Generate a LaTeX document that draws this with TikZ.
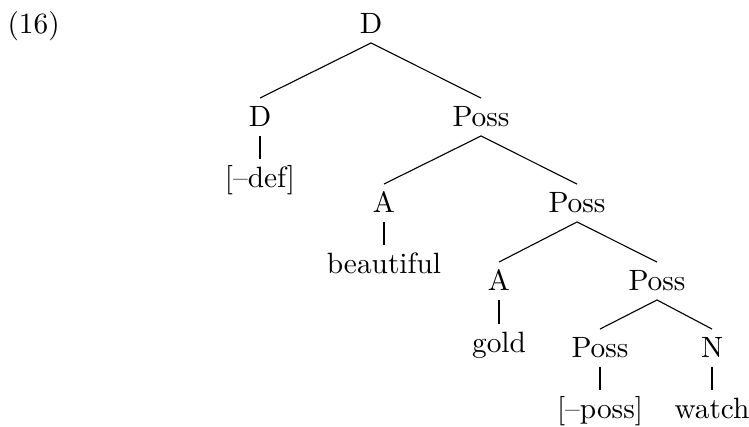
\documentclass[tikz,border=0pt]{standalone}
\begin{document}
\fontsize{10.6pt}{12.7pt}\selectfont
\begin{tikzpicture}[x=0.361pt,y=-0.361pt,
  lbl/.style={anchor=base,inner sep=3.4pt,text height=6.5pt,text depth=0pt},
  br/.style={line width=0.4pt}]
\useasboundingbox (0,0) rectangle (749,426);
\node[anchor=base west,inner sep=0pt] (ex) at (7,33) {(16)};
\node[lbl] (D0) at (371,33) {D};
\node[lbl] (D1) at (260,126) {D};
\node[lbl] (def) at (260,187) {[--def]};
\node[lbl] (P1) at (481,126) {Poss};
\node[lbl] (A1) at (384,212) {A};
\node[lbl] (beau) at (384,273) {beautiful};
\node[lbl] (P2) at (577,212) {Poss};
\node[lbl] (A2) at (499,290) {A};
\node[lbl] (gold) at (499,352) {gold};
\node[lbl] (P3) at (657,290) {Poss};
\node[lbl] (P4) at (600,357) {Poss};
\node[lbl] (N) at (712,357) {N};
\node[lbl] (poss) at (600,418) {[--poss]};
\node[lbl] (watch) at (712,418) {watch};
\draw[br] (D1.north) -- (D0.south) -- (P1.north);
\draw[br] (D1.south) -- (def.north);
\draw[br] (A1.north) -- (P1.south) -- (P2.north);
\draw[br] (A1.south) -- (beau.north);
\draw[br] (A2.north) -- (P2.south) -- (P3.north);
\draw[br] (A2.south) -- (gold.north);
\draw[br] (P4.north) -- (P3.south) -- (N.north);
\draw[br] (P4.south) -- (poss.north);
\draw[br] (N.south) -- (watch.north);
\end{tikzpicture}
\end{document}
